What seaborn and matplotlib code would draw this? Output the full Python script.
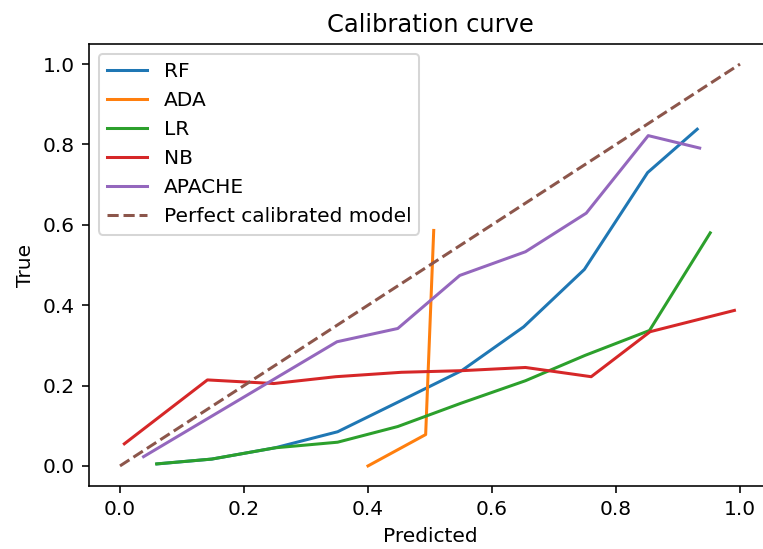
import matplotlib
matplotlib.use("Agg")
import matplotlib.pyplot as plt
import seaborn as sns
import pandas as pd

rf_x = [0.06, 0.148, 0.25, 0.351, 0.45, 0.551, 0.651, 0.749, 0.851, 0.931]
rf_y = [0.005, 0.017, 0.045, 0.085, 0.16, 0.237, 0.346, 0.489, 0.730, 0.838]

ada_x = [0.40, 0.493, 0.506]
ada_y = [0.0, 0.078, 0.586]

lr_x = [0.059, 0.148, 0.25, 0.351, 0.448, 0.55, 0.654, 0.75, 0.854, 0.952]
lr_y = [0.005, 0.017, 0.045, 0.059, 0.098, 0.156, 0.212, 0.275, 0.337, 0.580]

nb_x = [0.007, 0.141, 0.248, 0.348, 0.454, 0.551, 0.654, 0.760, 0.855, 0.991]
nb_y = [0.055, 0.214, 0.205, 0.222, 0.233, 0.237, 0.245, 0.222, 0.334, 0.387]

apache_x = [0.038, 0.350, 0.448, 0.548, 0.654, 0.752, 0.852, 0.935]
apache_y = [0.023, 0.309, 0.342, 0.474, 0.533, 0.629, 0.822, 0.791]

perfect_x = [0.0, 1.0]
perfect_y = [0.0, 1.0]

series = [("RF", rf_x, rf_y), ("ADA", ada_x, ada_y), ("LR", lr_x, lr_y),
          ("NB", nb_x, nb_y), ("APACHE", apache_x, apache_y)]

colors = sns.color_palette("tab10")
s = 1.45

plt.rcParams.update({
    "axes.linewidth": 0.8 * s,
    "xtick.major.size": 3.5 * s,
    "ytick.major.size": 3.5 * s,
    "xtick.major.width": 0.8 * s,
    "ytick.major.width": 0.8 * s,
    "xtick.major.pad": 3.5 * s,
    "ytick.major.pad": 3.5 * s,
    "legend.fontsize": 10 * s,
    "patch.linewidth": 1.0 * s,
})

fig = plt.figure(figsize=(7.63, 5.49), dpi=100)
ax = fig.add_axes([89 / 763, 1 - 486 / 549, 682 / 763, 442 / 549])

lw = 1.5 * s
for i, (name, xs, ys) in enumerate(series):
    df = pd.DataFrame({"x": xs, "y": ys})
    sns.lineplot(data=df, x="x", y="y", ax=ax, color=colors[i], label=name,
                 sort=False, estimator=None, linewidth=lw)

dfp = pd.DataFrame({"x": perfect_x, "y": perfect_y})
sns.lineplot(data=dfp, x="x", y="y", ax=ax, color=colors[5], linestyle="--",
             label="Perfect calibrated model", sort=False, estimator=None, linewidth=lw)

ax.set_xlim(-0.05, 1.05)
ax.set_ylim(-0.05, 1.05)
ax.set_xticks([0.0, 0.2, 0.4, 0.6, 0.8, 1.0])
ax.set_yticks([0.0, 0.2, 0.4, 0.6, 0.8, 1.0])
ax.set_xlabel("Predicted", fontsize=10 * s, labelpad=4 * s)
ax.set_ylabel("True", fontsize=10 * s, labelpad=4 * s)
ax.set_title("Calibration curve", fontsize=12 * s, pad=6 * s)
ax.tick_params(labelsize=10 * s)
ax.legend(loc="upper left", fontsize=10 * s)

fig.savefig("out.png", dpi=100)
